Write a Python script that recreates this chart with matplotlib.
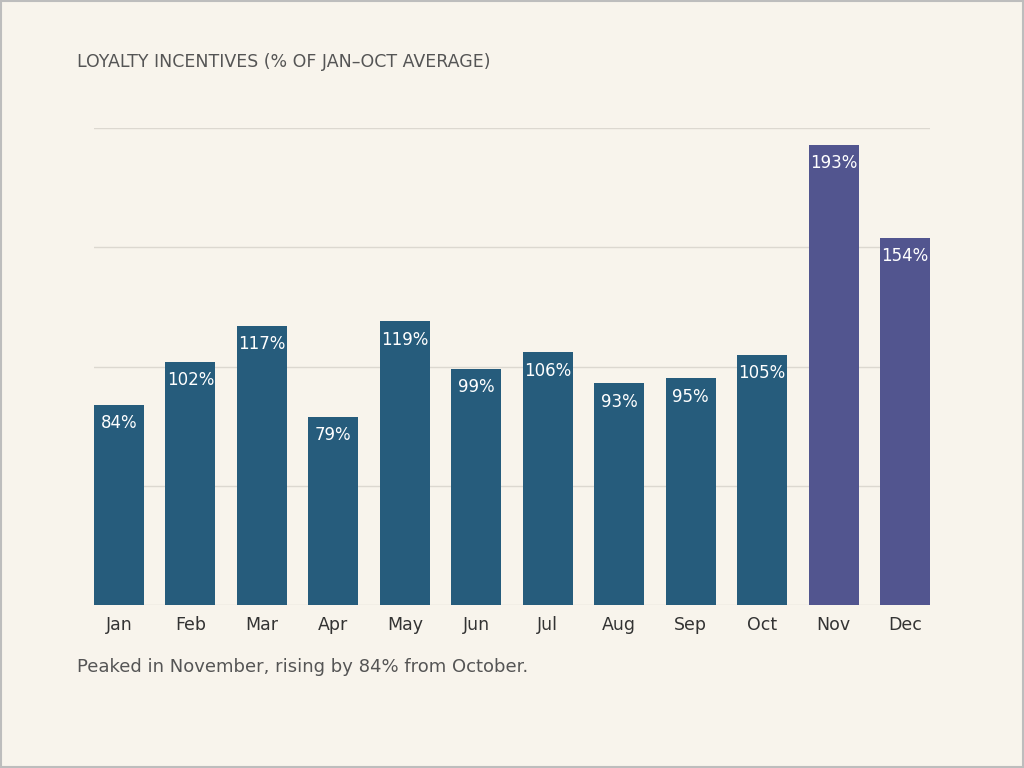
import matplotlib
matplotlib.use("Agg")
import matplotlib.pyplot as plt
from matplotlib.patches import Rectangle

months = ["Jan","Feb","Mar","Apr","May","Jun","Jul","Aug","Sep","Oct","Nov","Dec"]
values = [84,102,117,79,119,99,106,93,95,105,193,154]
highlight = ["Nov","Dec"]

bg = "#f8f4ec"
fig = plt.figure(figsize=(10.24,7.68), dpi=100, facecolor=bg)
fig.patches.append(Rectangle((0.001,0.001),0.998,0.998, transform=fig.transFigure,
                             fill=False, edgecolor="#bdbdbd", linewidth=1.5))
ax = fig.add_axes([94/1024, 1-605/768, 836/1024, 477/768])
ax.set_facecolor(bg)
x = list(range(len(months)))
colors = ["#52558f" if m in highlight else "#265c7c" for m in months]
ax.bar(x, values, width=0.7, color=colors, zorder=3)
for xi, v in zip(x, values):
    ax.text(xi, v-4, f"{v}%", ha="center", va="top", color="white", fontsize=12, zorder=4)
ax.set_xlim(-0.35, 11.35)
ax.set_ylim(0, 200)
ax.set_yticks([0,50,100,150,200])
ax.yaxis.grid(True, color="#dcd8d0", linewidth=1, zorder=0)
ax.tick_params(axis="y", left=False, labelleft=False)
ax.tick_params(axis="x", length=0, labelsize=12.5, colors="#333333", pad=8)
ax.set_xticks(x)
ax.set_xticklabels(months)
for s in ax.spines.values():
    s.set_visible(False)
fig.text(77/1024, 1-62/768, "LOYALTY INCENTIVES (% OF JAN–OCT AVERAGE)", fontsize=12.5,
         color="#555555", va="center", ha="left")
fig.text(77/1024, 1-667/768, "Peaked in November, rising by 84% from October.", fontsize=13,
         color="#555555", va="center", ha="left")
fig.savefig("out.png", dpi=100, facecolor=bg)
